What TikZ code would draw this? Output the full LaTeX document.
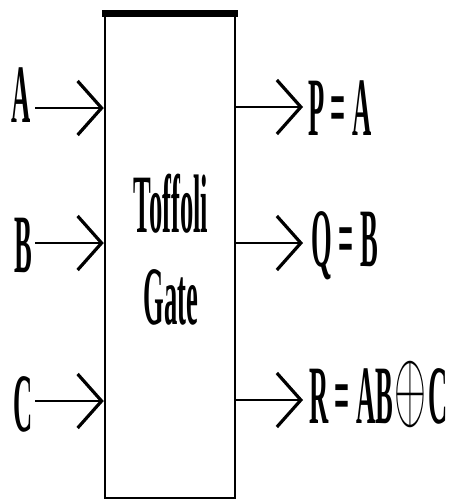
\documentclass[tikz,border=0pt]{standalone}
\usepackage{fontspec}
\setmainfont{Liberation Serif}
\usepackage{graphicx}
\usetikzlibrary{arrows.meta}
\newcommand{\cond}[1]{\scalebox{0.32}[1]{\fontsize{83}{83}\selectfont\bfseries #1}}
\newcommand{\xorsym}{\hspace{1.5pt}\raisebox{4pt}{\scalebox{4.1}[10]{$\oplus$}}\hspace{1.5pt}}
\tikzset{
  lab/.style={inner sep=0pt, outer sep=0pt, anchor=base west},
  arr/.style={line width=2.2pt, -{Straight Barb[length=24pt,width=54pt,line width=3.2pt]}},
}
\begin{document}
\begin{tikzpicture}[x=1pt,y=-1pt]
\useasboundingbox (0,0) rectangle (453,501);
\node[draw, line width=2.5pt, minimum width=130pt, minimum height=484pt, inner sep=0pt] (gate) at (170,256) {};
\draw[line width=7pt, shorten <=-1.5pt, shorten >=-1.5pt] ([yshift=-0.5pt]gate.north west) -- ([yshift=-0.5pt]gate.north east);
\node[inner sep=0pt, anchor=base] (t1) at (171,232) {\cond{Toffoli}};
\node[inner sep=0pt, anchor=base] (t2) at (171,324) {\cond{Gate}};
% inputs
\node[lab] (la) at (12,122) {\cond{A}};
\node[lab] (lb) at (14,272) {\cond{B}};
\node[lab] (lc) at (13,431) {\cond{C}};
\coordinate (ia) at (35,108);
\coordinate (ib) at (35,243);
\coordinate (ic) at (35,401);
\draw[arr] (ia) -- (ia -| gate.west);
\draw[arr] (ib) -- (ib -| gate.west);
\draw[arr] (ic) -- (ic -| gate.west);
% outputs
\coordinate (oa) at (303,107);
\coordinate (ob) at (303,243);
\coordinate (oc) at (303,400);
\draw[arr] (gate.east |- oa) -- (oa);
\draw[arr] (gate.east |- ob) -- (ob);
\draw[arr] (gate.east |- oc) -- (oc);
\node[lab] (lp) at (308,135) {\cond{P = A}};
\node[lab] (lq) at (311,266) {\cond{Q = B}};
\node[lab] (lr) at (309,423) {\cond{R = AB}\xorsym\cond{C}};
\end{tikzpicture}
\end{document}
